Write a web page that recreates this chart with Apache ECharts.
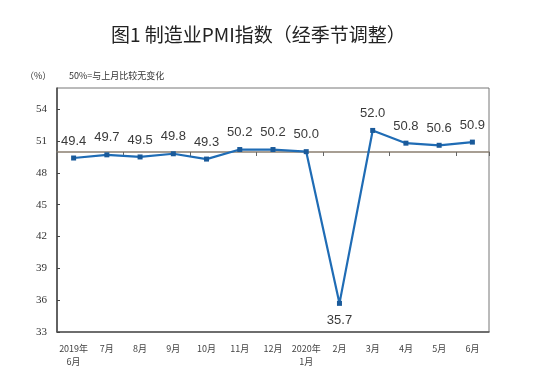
<!DOCTYPE html>
<html><head><meta charset="utf-8">
<script src="https://cdn.jsdelivr.net/npm/echarts@6/dist/echarts.min.js"></script>
<style>html,body{margin:0;padding:0;background:#fff}#c{width:545px;height:387px}</style>
</head><body><div id="c"></div>
<script>
const categories = ['2019年\n6月','7月','8月','9月','10月','11月','12月','2020年\n1月','2月','3月','4月','5月','6月'];
const pmiValues = [49.4, 49.7, 49.5, 49.8, 49.3, 50.2, 50.2, 50.0, 35.7, 52.0, 50.8, 50.6, 50.9];
const yTicks = [33, 36, 39, 42, 45, 48, 51, 54];
const refValue = 50;

const Y_MIN = 33, Y_MAX = 56;
const GRID = {left: 57, right: 56, top: 88, bottom: 55};
const plotH = 387 - GRID.top - GRID.bottom;
const refOffset = -Math.round((refValue - Y_MIN) / (Y_MAX - Y_MIN) * plotH);

const chart = echarts.init(document.getElementById('c'));
chart.setOption({
  backgroundColor: '#fff',
  animation: false,
  title: [
    {text: '图1 制造业PMI指数（经季节调整）', left: 106, top: 20,
     textStyle: {fontFamily: 'Noto Sans CJK SC', fontSize: 19, fontWeight: 'normal', color: '#222'}},
    {text: '（%）', left: 20, top: 66,
     textStyle: {fontFamily: 'Noto Sans CJK SC', fontSize: 9, fontWeight: 'normal', color: '#333'}},
    {text: '50%=与上月比较无变化', left: 64, top: 66,
     textStyle: {fontFamily: 'Noto Sans CJK SC', fontSize: 9, fontWeight: 'normal', color: '#333'}}
  ],
  grid: Object.assign({show: true, borderColor: '#777', borderWidth: 1}, GRID),
  xAxis: [
    {type: 'category', data: categories, boundaryGap: true,
     axisLine: {lineStyle: {color: '#555', width: 1.5}},
     axisTick: {show: false},
     axisLabel: {fontFamily: 'Noto Sans CJK SC', fontSize: 9, color: '#444', margin: 10, lineHeight: 13, interval: 0}},
    {type: 'category', data: categories, boundaryGap: true, position: 'bottom', offset: refOffset,
     axisLine: {lineStyle: {color: '#8a7f70', width: 1.5}},
     axisTick: {show: true, length: 4, lineStyle: {color: '#666'}},
     axisLabel: {show: false}}
  ],
  yAxis: {
    type: 'value', min: Y_MIN, max: Y_MAX, interval: 3,
    splitLine: {show: false},
    axisLine: {show: true, lineStyle: {color: '#444', width: 1.5}},
    axisTick: {show: true, inside: true, length: 3, lineStyle: {color: '#444'}},
    axisLabel: {fontFamily: 'Liberation Serif', fontSize: 11, color: '#333', margin: 10,
      showMaxLabel: false,
      formatter: v => yTicks.includes(v) ? String(v) : ''}
  },
  series: [{
    type: 'line', xAxisIndex: 0,
    symbol: 'rect', symbolSize: 5,
    lineStyle: {color: '#1f6cb5', width: 2.2},
    itemStyle: {color: '#1a5a9a'},
    label: {show: true, position: 'top', distance: 8, fontFamily: 'Liberation Sans', fontSize: 13, color: '#3a3a3a',
      formatter: p => p.value.toFixed(1)},
    labelLayout: {hideOverlap: false},
    data: pmiValues.map((v, i) => i === 8 ? {value: v, label: {position: 'bottom', distance: 8}} : v)
  }]
});
</script></body></html>
